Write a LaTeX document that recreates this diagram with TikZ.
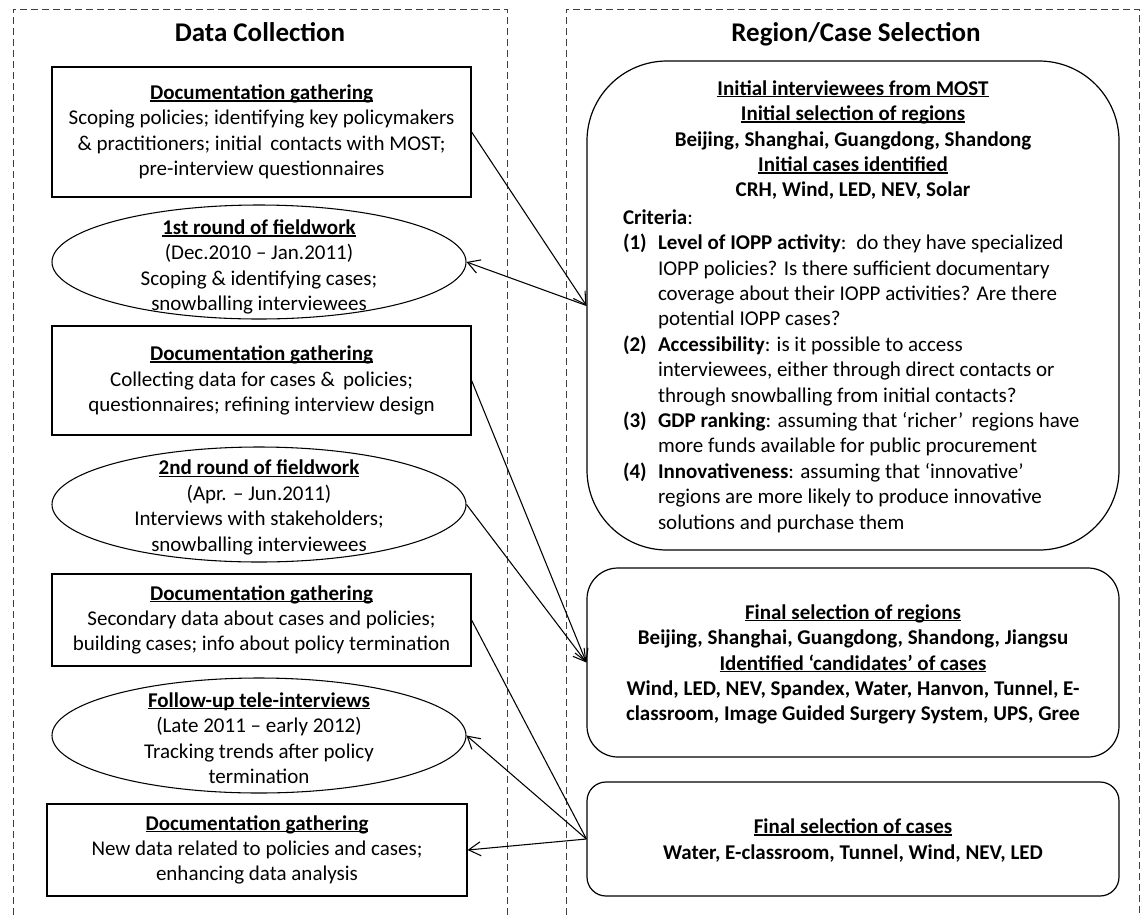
\documentclass[tikz,border=0pt]{standalone}
\usepackage{fontspec}
\setmainfont{Carlito}
\usetikzlibrary{arrows.meta,shapes.geometric}

% text sizes (1 unit = 0.75pt)
\newcommand\bodyfont{\fontsize{15.75pt}{19.05pt}\selectfont}
\newcommand\headfont{\fontsize{20.25pt}{24pt}\selectfont\bfseries}
% underline sitting just under the baseline
\newcommand\uln[1]{\leavevmode\setbox0=\hbox{#1}\rlap{\rule[-0.1em]{\wd0}{0.07em}}\box0}
% one line of the criteria list: number column, then text
\newcommand\critnum[1]{\makebox[26.25pt][l]{\textbf{#1}}}
\newcommand\critcont{\hspace*{26.25pt}}
% a centred line across the whole criteria block
\newcommand\midline[1]{\makebox[345pt][c]{#1}}

\tikzset{
  panel/.style={draw=black!75, line width=0.75pt, dash pattern=on 5.25pt off 3pt},
  paneltitle/.style={inner sep=0pt, anchor=base, font=\headfont},
  docbox/.style={draw, rectangle, line width=0.9pt, inner sep=0pt, align=center, font=\bodyfont},
  fieldwork/.style={draw, ellipse, line width=0.8pt, inner sep=0pt},
  selbox/.style={draw, rectangle, line width=0.9pt, inner sep=0pt},
  txt/.style={inner sep=0pt, font=\bodyfont},
  link/.style={line width=0.8pt},
  tipend/.style={-{Straight Barb[length=9pt,width=10.5pt]}}
}

\begin{document}
\begin{tikzpicture}[x=0.75pt,y=-0.75pt]
\fill[white] (0,0) rectangle (1142,915);
\useasboundingbox (0,0) rectangle (1142,915);

% the two dashed panels
\draw[panel] (13,915) -- (13,9) -- (507,9) -- (507,915);
\draw[panel] (566,915) -- (566,9) -- (1139,9) -- (1139,915);
\node[paneltitle] (t1) at (260,41) {Data Collection};
\node[paneltitle] (t2) at (856,41) {Region/Case Selection};

% data collection steps
\node[docbox, minimum width=314.25pt, minimum height=97.5pt] (d1) at (261.5,132)
  {\uln{\textbf{Documentation gathering}}\\Scoping policies; identifying key policymakers\\\& practitioners; initial\, contacts with MOST;\\pre-interview questionnaires};

\node[fieldwork, minimum width=310.5pt, minimum height=85.5pt] (e1) at (259,262) {};
\node[txt, align=center] (e1t) at (259,267)
  {\uln{\textbf{1st round of fieldwork}}\\(Dec.2010 -- Jan.2011)\\Scoping \& identifying cases;\\snowballing interviewees};

\node[docbox, minimum width=314.25pt, minimum height=81.75pt] (d2) at (261.5,380.5)
  {\uln{\textbf{Documentation gathering}}\\Collecting data for cases \&\, policies;\\questionnaires; refining interview design};

\node[fieldwork, minimum width=310.5pt, minimum height=86.25pt] (e2) at (259,504.5) {};
\node[txt, align=center] (e2t) at (259,507.5)
  {\uln{\textbf{2nd round of fieldwork}}\\(Apr. -- Jun.2011)\\Interviews with stakeholders;\\snowballing interviewees};

\node[docbox, minimum width=314.25pt, minimum height=69pt] (d3) at (261.5,620)
  {\uln{\textbf{Documentation gathering}}\\Secondary data about cases and policies;\\building cases; info about policy termination};

\node[fieldwork, minimum width=310.5pt, minimum height=86.25pt] (e3) at (259,735.5) {};
\node[txt, align=center] (e3t) at (259,738)
  {\uln{\textbf{Follow-up tele-interviews}}\\(Late 2011 -- early 2012)\\Tracking trends after policy\\termination};

\node[docbox, minimum width=315pt, minimum height=69pt] (d4) at (257,850)
  {\uln{\textbf{Documentation gathering}}\\New data related to policies and cases;\\enhancing data analysis};

% region / case selection
\node[selbox, rounded corners=60pt, minimum width=399pt, minimum height=366.75pt] (s1) at (853,305.5) {};
\node[txt, align=left] (s1t) at (853,306.5) {%
  \midline{\uln{\textbf{Initial interviewees from MOST}}}\\
  \midline{\uln{\textbf{Initial selection of regions}}}\\
  \midline{\textbf{Beijing, Shanghai, Guangdong, Shandong}}\\
  \midline{\uln{\textbf{Initial cases identified}}}\\
  \midline{\textbf{CRH, Wind, LED, NEV, Solar}}\\[1.5pt]
  \textbf{Criteria}:\\
  \critnum{(1)}\textbf{Level of IOPP activity}:\, do they have specialized\\
  \critcont IOPP policies? Is there sufficient documentary\\
  \critcont coverage about their IOPP activities? Are there\\
  \critcont potential IOPP cases?\\
  \critnum{(2)}\textbf{Accessibility}: is it possible to access\\
  \critcont interviewees, either through direct contacts or\\
  \critcont through snowballing from initial contacts?\\
  \critnum{(3)}\textbf{GDP ranking}: assuming that `richer'\, regions have\\
  \critcont more funds available for public procurement\\
  \critnum{(4)}\textbf{Innovativeness}: assuming that `innovative'\\
  \critcont regions are more likely to produce innovative\\
  \critcont solutions and purchase them
};

\node[selbox, rounded corners=23.25pt, minimum width=399pt, minimum height=141.75pt] (s2) at (853,662.5) {};
\node[txt, align=center] (s2t) at (853,664.5)
  {\uln{\textbf{Final selection of regions}}\\
   \textbf{Beijing, Shanghai, Guangdong, Shandong, Jiangsu}\\
   \uln{\textbf{Identified `candidates' of cases}}\\
   \textbf{Wind, LED, NEV, Spandex, Water, Hanvon, Tunnel, E-}\\
   \textbf{classroom, Image Guided Surgery System, UPS, Gree}};

\node[selbox, rounded corners=14.25pt, minimum width=399pt, minimum height=85.5pt] (s3) at (853,839) {};
\node[txt, align=center] (s3t) at (853,840.5)
  {\uln{\textbf{Final selection of cases}}\\
   \textbf{Water, E-classroom, Tunnel, Wind, NEV, LED}};

% connectors
\draw[link, tipend] (d1.east) -- (s1.west);
\draw[link, tipend] (s1.west) -- (e1.east);
\draw[link, tipend] (d2.east) -- (s2.west);
\draw[link, tipend] (e2.east) -- (s2.west);
\draw[link] (d3.east) -- (s3.west);
\draw[link, tipend] (s3.west) -- (e3.east);
\draw[link, tipend] (s3.west) -- (d4.east);
\end{tikzpicture}
\end{document}
